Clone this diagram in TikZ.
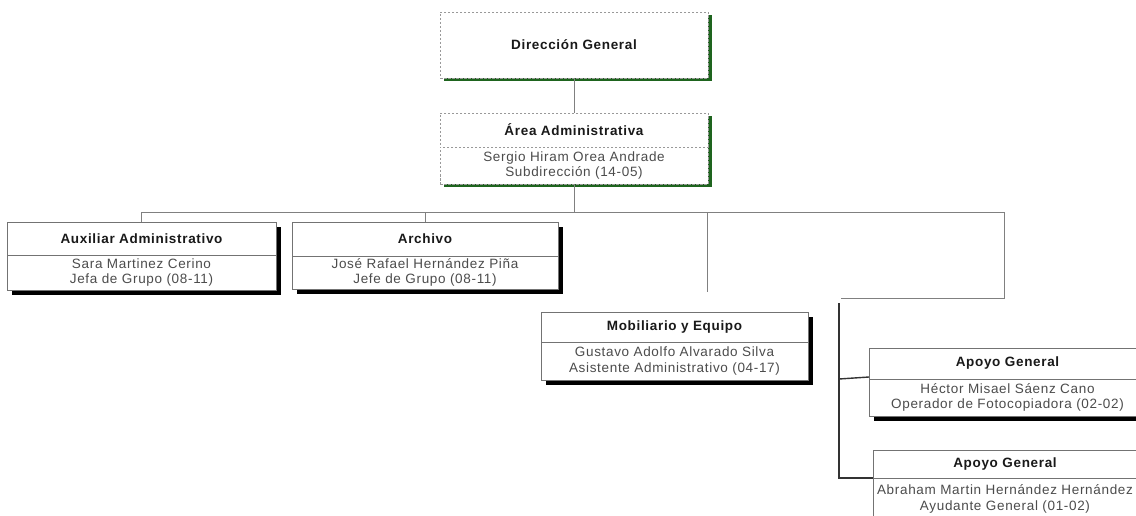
\documentclass[tikz,border=0pt]{standalone}
\usepackage{fontspec}
\setmainfont{Liberation Sans}[LetterSpace=5]
\usetikzlibrary{backgrounds}
\definecolor{shgreen}{RGB}{30,100,30}
\tikzset{
  part/.style={draw=black!55, line width=0.8pt, fill=white, inner sep=0pt, outer sep=0pt,
               anchor=north west, align=center},
  dpart/.style={part, draw=black!40, dash pattern=on 2.5pt off 1.5pt, line width=0.7pt},
  ttl/.style={font=\bfseries\fontsize{13.5}{16}\selectfont, text=black!90},
  bdy/.style={font=\fontsize{13.5}{15.5}\selectfont, text=black!70},
  conn/.style={draw=black!50, line width=1pt},
  connd/.style={draw=black!80, line width=1.4pt},
  shad/.style={fill=black},
  gshad/.style={fill=shgreen},
}
\begin{document}
\begin{tikzpicture}[x=1pt,y=-1pt]
\clip (0,0) rectangle (1136,516);

% Dirección General
\node[dpart, ttl, minimum width=268pt, minimum height=66pt] (dg) at (440,12) {Dirección General};
% Área Administrativa
\node[dpart, ttl, minimum width=268pt, minimum height=34pt] (aa-t) at (440,113) {Área Administrativa};
\node[dpart, bdy, minimum width=268pt, minimum height=37pt] (aa-b) at (440,147) {Sergio Hiram Orea Andrade\\Subdirección (14-05)};

% Auxiliar Administrativo
\node[part, ttl, minimum width=269pt, minimum height=33pt] (aux-t) at (7,222) {Auxiliar Administrativo};
\node[part, bdy, minimum width=269pt, minimum height=35pt] (aux-b) at (7,255) {Sara Martinez Cerino\\Jefa de Grupo (08-11)};

% Archivo
\node[part, ttl, minimum width=266pt, minimum height=34pt] (arch-t) at (292,222) {Archivo};
\node[part, bdy, minimum width=266pt, minimum height=33pt] (arch-b) at (292,256) {José Rafael Hernández Piña\\Jefe de Grupo (08-11)};

% Mobiliario y Equipo
\node[part, ttl, minimum width=267pt, minimum height=30pt] (mob-t) at (541,312) {Mobiliario y Equipo};
\node[part, bdy, minimum width=267pt, minimum height=38pt] (mob-b) at (541,342) {Gustavo Adolfo Alvarado Silva\\Asistente Administrativo (04-17)};

% Apoyo General 1
\node[part, ttl, minimum width=277pt, minimum height=31pt] (ag1-t) at (869,348) {Apoyo General};
\node[part, bdy, minimum width=277pt, minimum height=37pt] (ag1-b) at (869,379) {Héctor Misael Sáenz Cano\\Operador de Fotocopiadora (02-02)};

% Apoyo General 2
\node[part, ttl, minimum width=264pt, minimum height=28pt] (ag2-t) at (873,450) {Apoyo General};
\node[part, bdy, minimum width=264pt, minimum height=42pt] (ag2-b) at (873,478) {Abraham Martin Hernández Hernández\\Ayudante General (01-02)};

\begin{scope}[on background layer]
  \fill[white] (0,0) rectangle (1136,516);
  \fill[gshad] ([shift={(3.5,3.5)}]dg.north west) rectangle ([shift={(3.5,3.5)}]dg.south east);
  \fill[gshad] ([shift={(3.5,3.5)}]aa-t.north west) rectangle ([shift={(3.5,3.5)}]aa-b.south east);
  \fill[shad] ([shift={(4.5,4.5)}]aux-t.north west) rectangle ([shift={(4.5,4.5)}]aux-b.south east);
  \fill[shad] ([shift={(4.5,4.5)}]arch-t.north west) rectangle ([shift={(4.5,4.5)}]arch-b.south east);
  \fill[shad] ([shift={(4.5,4.5)}]mob-t.north west) rectangle ([shift={(4.5,4.5)}]mob-b.south east);
  \fill[shad] ([shift={(4.5,4.5)}]ag1-t.north west) rectangle ([shift={(4.5,4.5)}]ag1-b.south east);
  \fill[shad] ([shift={(4.5,4.5)}]ag2-t.north west) rectangle ([shift={(4.5,4.5)}]ag2-b.south east);
\end{scope}

% connector points
\coordinate (bus) at (574,213);
\coordinate (busR) at (1004,213);
\coordinate (dangle) at (707,292);
\coordinate (elbow) at (1004,298);
\coordinate (elbowL) at (841,298);
\coordinate (trunkT) at (839,303);

\draw[conn] (dg.south) -- (aa-t.north);
\draw[conn] (aa-b.south) -- (bus);
\draw[conn] (aux-t.north) -- (aux-t.north |- bus) -- (busR) -- (elbow) -- (elbowL);
\draw[conn] (arch-t.north) -- (arch-t.north |- bus);
\draw[conn] (dangle |- bus) -- (dangle);
\draw[connd] (trunkT) |- (ag2-b.north west);
\draw[connd] (trunkT |- ag1-b.north west) -- ([yshift=2pt]ag1-b.north west);
\end{tikzpicture}
\end{document}
